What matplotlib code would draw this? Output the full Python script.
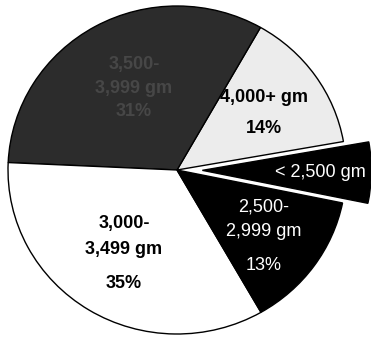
import matplotlib.pyplot as plt

plt.rcParams['font.family'] = ['Liberation Sans', 'DejaVu Sans']

# slices, counter-clockwise starting just above the 3 o'clock position
names = ['4,000+ gm', '3,500-\n3,999 gm', '3,000-\n3,499 gm', '2,500-\n2,999 gm', '< 2,500 gm']
shares = [14, 32.5, 34, 13.5, 6]
pct_text = ['14%', '31%', '35%', '13%', '']
colors = ['#ececec', '#2c2c2c', 'white', 'black', 'black']
text_colors = ['black', '#474747', 'black', 'white', 'white']
weights = ['bold', 'bold', 'bold', 'normal', 'normal']
explode = [0, 0, 0, 0, 0.15]

# label placement in pixels (x, first line y, line step, gap to percent)
label_px = [(264, 97, 25, 31), (134, 64, 24, 23), (124, 223, 27, 33),
            (264, 207, 24, 34), (320, 172, 0, 0)]

W, H = 371, 339
CX, CY, RX, RY = 177, 170, 169, 164

fig = plt.figure(figsize=(W / 100, H / 100), dpi=100)
ax = fig.add_axes([0, 0, 1, 1])

wedges, _ = ax.pie(shares, colors=colors, explode=explode, startangle=10,
                   counterclock=True,
                   wedgeprops=dict(edgecolor='black', linewidth=1.0))


def to_data(px, py):
    return (px - CX) / RX, (CY - py) / RY


for name, pct, tc, fw, (px, py, step, gap) in zip(names, pct_text, text_colors,
                                                  weights, label_px):
    lines = name.split('\n')
    for i, line in enumerate(lines):
        x, y = to_data(px, py + i * step)
        ax.text(x, y, line, ha='center', va='center', color=tc,
                fontsize=13, fontweight=fw)
    if pct:
        x, y = to_data(px, py + (len(lines) - 1) * step + gap)
        ax.text(x, y, pct, ha='center', va='center', color=tc,
                fontsize=13, fontweight=fw)

ax.set_aspect('auto')
ax.set_xlim(-CX / RX, (W - CX) / RX)
ax.set_ylim((CY - H) / RY, CY / RY)
ax.axis('off')

fig.savefig('out.png', dpi=100)
